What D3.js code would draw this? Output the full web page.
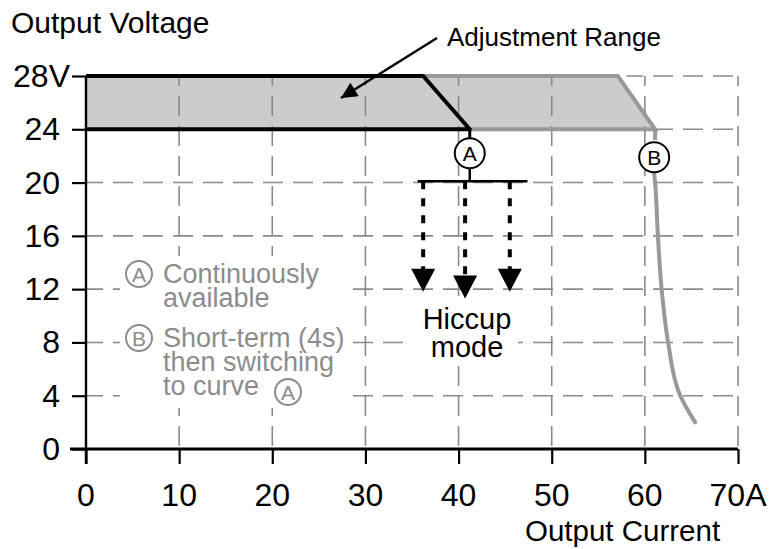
<!DOCTYPE html>
<html>
<head>
<meta charset="utf-8">
<script src="https://cdn.jsdelivr.net/npm/d3@7"></script>
<style>
  body { margin: 0; background: #fff; }
  svg { font-family: "Liberation Sans", Arial, sans-serif; }
</style>
</head>
<body>
<div id="container"></div>
<script>
const currentTicks = [0, 10, 20, 30, 40, 50, 60, 70];
const voltageTicks = [0, 4, 8, 12, 16, 20, 24, 28];

// adjustment band (A = black, B = gray), [current, voltage]
const curveA = [[0, 28], [36.2, 28], [41.2, 24], [0, 24]];
const curveB = [[36.2, 28], [57.1, 28], [61.1, 24], [41.2, 24]];
const bandFill = [[0, 24], [0, 28], [57.1, 28], [61.1, 24]];
const stemA = [[41.2, 24], [41.2, 23.2]];
const stemB = [[61.1, 24], [61.1, 23.2]];
const tailB = [[61.0, 20.7], [61.1, 20], [61.4, 16], [61.8, 12], [62.5, 8], [63.8, 4], [65.4, 2]];

const markers = [
  { label: "A", current: 41.2, voltage: 22.2 },
  { label: "B", current: 61.0, voltage: 21.9 },
];

// hiccup
const hiccupBar = [35.6, 47.4];
const hiccupLevel = 20.1;
const hiccupArrows = [
  { current: 36.2, tip: 11.8 },
  { current: 40.7, tip: 11.3 },
  { current: 45.5, tip: 11.8 },
];

const legendLines = [
  { mark: "A", lines: ["Continuously", "available"] },
  { mark: "B", lines: ["Short-term (4s)", "then switching", "to curve"] },
];

const width = 770;
const height = 549;

const x = d3.scaleLinear().domain([0, 70]).range([86, 738]);
const y = d3.scaleLinear().domain([0, 28]).range([449, 76]);

const line = d3.line().x((d) => x(d[0])).y((d) => y(d[1]));

const svg = d3
  .select("#container")
  .append("svg")
  .attr("width", width)
  .attr("height", height);

const defs = svg.append("defs");
defs
  .append("marker")
  .attr("id", "head")
  .attr("viewBox", "0 0 10 10")
  .attr("refX", 10)
  .attr("refY", 5)
  .attr("markerWidth", 22)
  .attr("markerHeight", 16)
  .attr("markerUnits", "userSpaceOnUse")
  .attr("orient", "auto")
  .append("path")
  .attr("d", "M0,0L10,5L0,10Z")
  .attr("fill", "#000");

// band fill
svg
  .append("path")
  .attr("d", line(bandFill) + "Z")
  .attr("fill", "#cccccc");

// dashed grid
const grid = svg.append("g").attr("stroke", "#8a8a8a").attr("stroke-width", 1.6).attr("stroke-dasharray", "20,10");
grid
  .selectAll("line.v")
  .data(currentTicks.slice(1))
  .join("line")
  .attr("x1", (d) => x(d))
  .attr("x2", (d) => x(d))
  .attr("y1", y(0))
  .attr("y2", y(28))
  .attr("stroke-dashoffset", -3);
grid
  .selectAll("line.h")
  .data(voltageTicks.slice(1))
  .join("line")
  .attr("x1", x(70))
  .attr("x2", (d) => (d === 28 ? x(58) : x(0)))
  .attr("y1", (d) => y(d))
  .attr("y2", (d) => y(d))
  .attr("stroke-dashoffset", -5);

// white boxes behind the notes
svg.append("rect").attr("x", 120).attr("y", 256).attr("width", 232).attr("height", 152).attr("fill", "#fff");
svg.append("rect").attr("x", 412).attr("y", 302).attr("width", 106).attr("height", 64).attr("fill", "#fff");

// axes
const yAxis = svg
  .append("g")
  .attr("transform", `translate(${x(0)},0)`)
  .call(d3.axisLeft(y).tickValues(voltageTicks).tickSize(14).tickFormat(""));
const xAxis = svg
  .append("g")
  .attr("transform", `translate(0,${y(0)})`)
  .call(d3.axisBottom(x).tickValues(currentTicks).tickSize(15).tickFormat(""));
[yAxis, xAxis].forEach((g) => {
  g.select(".domain").remove();
  g.selectAll(".tick line").attr("stroke", "#000").attr("stroke-width", 2.2);
});
svg.append("line")
  .attr("x1", x(0)).attr("x2", x(0))
  .attr("y1", y(0) + 15).attr("y2", y(28))
  .attr("stroke", "#000").attr("stroke-width", 2.4);
svg.append("line")
  .attr("x1", x(0) - 16).attr("x2", x(70))
  .attr("y1", y(0)).attr("y2", y(0))
  .attr("stroke", "#000").attr("stroke-width", 3);

// y labels
svg
  .append("g")
  .selectAll("text")
  .data(voltageTicks)
  .join("text")
  .attr("x", (d) => (d === 28 ? 70 : 60))
  .attr("y", (d) => y(d) + 11)
  .attr("text-anchor", "end")
  .attr("font-size", 32)
  .text((d) => (d === 28 ? "28V" : d));

// x labels
svg
  .append("g")
  .selectAll("text")
  .data(currentTicks)
  .join("text")
  .attr("x", (d) => x(d))
  .attr("y", 506)
  .attr("text-anchor", "middle")
  .attr("font-size", 32)
  .text((d) => (d === 70 ? "70A" : d));

svg.append("text").attr("x", 11).attr("y", 33).attr("font-size", 30).text("Output Voltage");
svg.append("text").attr("x", 525).attr("y", 541).attr("font-size", 29.5).text("Output Current");

// curves
svg.append("path").attr("d", line(curveB)).attr("fill", "none").attr("stroke", "#999").attr("stroke-width", 4);
svg.append("path").attr("d", line(stemB)).attr("fill", "none").attr("stroke", "#999").attr("stroke-width", 4);
svg.append("path").attr("d", d3.line().x((d) => x(d[0])).y((d) => y(d[1])).curve(d3.curveMonotoneY)(tailB))
  .attr("fill", "none").attr("stroke", "#999").attr("stroke-width", 4).attr("stroke-linecap", "round");
svg.append("path").attr("d", line(curveA)).attr("fill", "none").attr("stroke", "#000").attr("stroke-width", 4).attr("stroke-linejoin", "round");
svg.append("path").attr("d", line(stemA)).attr("fill", "none").attr("stroke", "#000").attr("stroke-width", 3);

// circled markers
const mk = svg.append("g").selectAll("g").data(markers).join("g")
  .attr("transform", (d) => `translate(${x(d.current)},${y(d.voltage)})`);
mk.append("circle").attr("r", 15).attr("fill", "#fff").attr("stroke", "#000").attr("stroke-width", 2);
mk.append("text").attr("text-anchor", "middle").attr("y", 7.5).attr("font-size", 21).text((d) => d.label);

// hiccup
svg.append("line")
  .attr("x1", x(markers[0].current)).attr("x2", x(markers[0].current))
  .attr("y1", y(markers[0].voltage) + 15).attr("y2", y(hiccupLevel))
  .attr("stroke", "#000").attr("stroke-width", 2.5);
svg.append("line")
  .attr("x1", x(hiccupBar[0])).attr("x2", x(hiccupBar[1]))
  .attr("y1", y(hiccupLevel)).attr("y2", y(hiccupLevel))
  .attr("stroke", "#000").attr("stroke-width", 2.5);
svg.append("g").selectAll("line").data(hiccupArrows).join("line")
  .attr("x1", (d) => x(d.current)).attr("x2", (d) => x(d.current))
  .attr("y1", y(hiccupLevel)).attr("y2", (d) => y(d.tip) - 18)
  .attr("stroke", "#000").attr("stroke-width", 4).attr("stroke-dasharray", "8,9");
svg.append("g").selectAll("path").data(hiccupArrows).join("path")
  .attr("d", (d) => `M${x(d.current) - 12},${y(d.tip) - 23}L${x(d.current) + 12},${y(d.tip) - 23}L${x(d.current)},${y(d.tip)}Z`)
  .attr("fill", "#000");
svg.append("text").attr("x", 467).attr("y", 329).attr("text-anchor", "middle").attr("font-size", 29).text("Hiccup");
svg.append("text").attr("x", 467).attr("y", 357).attr("text-anchor", "middle").attr("font-size", 29).text("mode");

// adjustment range annotation
svg.append("line")
  .attr("x1", 437).attr("x2", 341).attr("y1", 38).attr("y2", 98)
  .attr("stroke", "#000").attr("stroke-width", 2.5).attr("marker-end", "url(#head)");
svg.append("text").attr("x", 447).attr("y", 46).attr("font-size", 26).text("Adjustment Range");

// legend
const gray = "#8c8c8c";
const lg = svg.append("g").attr("fill", gray);
let yy = 283;
legendLines.forEach((item) => {
  lg.append("circle").attr("cx", 139).attr("cy", yy - 9).attr("r", 13)
    .attr("fill", "none").attr("stroke", gray).attr("stroke-width", 2);
  lg.append("text").attr("x", 139).attr("y", yy - 1.5).attr("text-anchor", "middle").attr("font-size", 21).text(item.mark);
  item.lines.forEach((t, i) => {
    lg.append("text").attr("x", 163).attr("y", yy + i * 24).attr("font-size", 27).text(t);
  });
  yy += 64;
});
lg.append("circle").attr("cx", 288).attr("cy", 392).attr("r", 13)
  .attr("fill", "none").attr("stroke", gray).attr("stroke-width", 2);
lg.append("text").attr("x", 288).attr("y", 399.5).attr("text-anchor", "middle").attr("font-size", 21).text("A");
</script>
</body>
</html>
